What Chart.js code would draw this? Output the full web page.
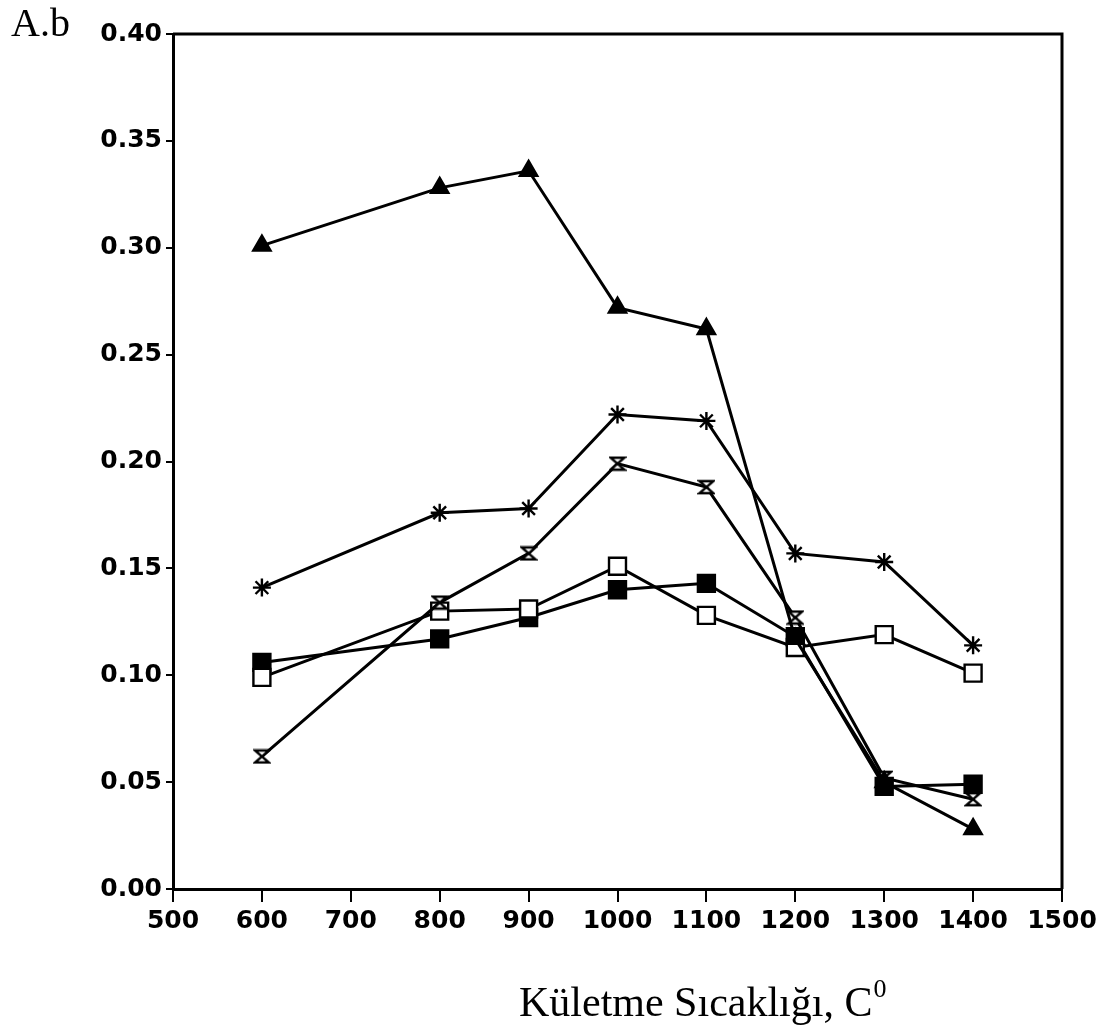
<!DOCTYPE html>
<html>
<head>
<meta charset="utf-8">
<script src="https://cdn.jsdelivr.net/npm/chart.js@4.4.1/dist/chart.umd.min.js"></script>
<style>
    html, body { margin: 0; padding: 0; background: #fff; }
</style>
</head>
<body>
<canvas id="graph" width="1118" height="1033"></canvas>
<script>
"use strict"

// *** DATI *** //
const temps = [600, 800, 900, 1000, 1100, 1200, 1300, 1400];
const xTicks = [500, 600, 700, 800, 900, 1000, 1100, 1200, 1300, 1400, 1500];
const yTicks = [0, 0.05, 0.10, 0.15, 0.20, 0.25, 0.30, 0.35, 0.40];

const triFilled  = [0.301, 0.328, 0.336, 0.272, 0.262, 0.117, 0.050, 0.028];
const starVals   = [0.141, 0.176, 0.178, 0.222, 0.219, 0.157, 0.153, 0.114];
const hourglass  = [0.062, 0.134, 0.157, 0.199, 0.188, 0.127, 0.052, 0.042];
const sqOpen     = [0.099, 0.130, 0.131, 0.151, 0.128, 0.113, 0.119, 0.101];
const sqFilled   = [0.106, 0.117, 0.127, 0.140, 0.143, 0.118, 0.048, 0.049];

const axisTitle = "Kületme Sıcaklığı, C";
const panelLabel = "A.b";

// *** SIMBOLO CLESSIDRA *** //
function hourglassMarker () {
    let c = document.createElement("canvas");
    c.width = 18; c.height = 16;
    let g = c.getContext("2d");
    g.lineWidth = 2.4;
    g.strokeStyle = "#000";
    g.fillStyle = "#fff";
    g.beginPath();
    g.moveTo(2, 2); g.lineTo(16, 2); g.lineTo(2, 14); g.lineTo(16, 14);
    g.closePath();
    g.fill();
    g.stroke();
    return c;
}

function pts (values) {
    return temps.map((t, i) => ({ x: t, y: values[i] }));
}

function serie (values, style, radius, fill) {
    return {
        data : pts(values),
        borderColor : "#000",
        borderWidth : 3,
        pointStyle : style,
        pointRadius : radius,
        pointBorderWidth : 2.4,
        pointBorderColor : "#000",
        pointBackgroundColor : fill,
        tension : 0
    };
}

// *** CORNICE E TESTI *** //
const framePlugin = {
    id : "frame",
    beforeDatasetsDraw (chart) {
        let a = chart.chartArea, ctx = chart.ctx;
        ctx.save();
        ctx.strokeStyle = "#000";
        ctx.lineWidth = 3;
        ctx.beginPath();
        ctx.moveTo(a.left, a.top);
        ctx.lineTo(a.right, a.top);
        ctx.lineTo(a.right, a.bottom);
        ctx.stroke();
        ctx.restore();
    },
    afterDraw (chart) {
        let ctx = chart.ctx;
        ctx.save();
        ctx.fillStyle = "#000";
        ctx.textBaseline = "alphabetic";
        ctx.font = '40px "Liberation Serif"';
        ctx.fillText(panelLabel, 11, 36);
        ctx.font = '42px "Liberation Serif"';
        ctx.fillText(axisTitle, 519, 1016);
        let w = ctx.measureText(axisTitle).width;
        ctx.font = '26px "Liberation Serif"';
        ctx.fillText("0", 519 + w + 1, 997);
        ctx.restore();
    }
};

const tickFont = { family : "DejaVu Sans", size : 25, weight : "bold" };

new Chart(document.getElementById("graph"), {
    type : "line",
    data : {
        datasets : [
            serie(triFilled, "triangle", 10, "#000"),
            serie(starVals, "star", 9, "#000"),
            serie(hourglass, hourglassMarker(), 9, "#fff"),
            serie(sqOpen, "rect", 12, "#fff"),
            serie(sqFilled, "rect", 12, "#000")
        ]
    },
    options : {
        responsive : false,
        animation : false,
        devicePixelRatio : 1,
        layout : { padding : { top : 34, right : 56, left : 0, bottom : 0 } },
        plugins : { legend : { display : false }, tooltip : { enabled : false } },
        scales : {
            x : {
                type : "linear",
                min : 500,
                max : 1500,
                afterBuildTicks : (axis) => { axis.ticks = xTicks.map(v => ({ value : v })); },
                afterFit : (axis) => { axis.height = 144; },
                grid : { drawOnChartArea : false, tickLength : 13, color : "#000", lineWidth : 2 },
                border : { color : "#000", width : 3 },
                ticks : { color : "#000", font : tickFont, padding : 4, maxRotation : 0, callback : (v) => String(v) }
            },
            y : {
                min : 0,
                max : 0.4,
                afterBuildTicks : (axis) => { axis.ticks = yTicks.map(v => ({ value : v })); },
                afterFit : (axis) => { axis.width = 173; },
                grid : { drawOnChartArea : false, tickLength : 7, color : "#000", lineWidth : 2 },
                border : { color : "#000", width : 3 },
                ticks : { color : "#000", font : tickFont, padding : 4, callback : (v) => Number(v).toFixed(2) }
            }
        }
    },
    plugins : [framePlugin]
});
</script>
</body>
</html>
